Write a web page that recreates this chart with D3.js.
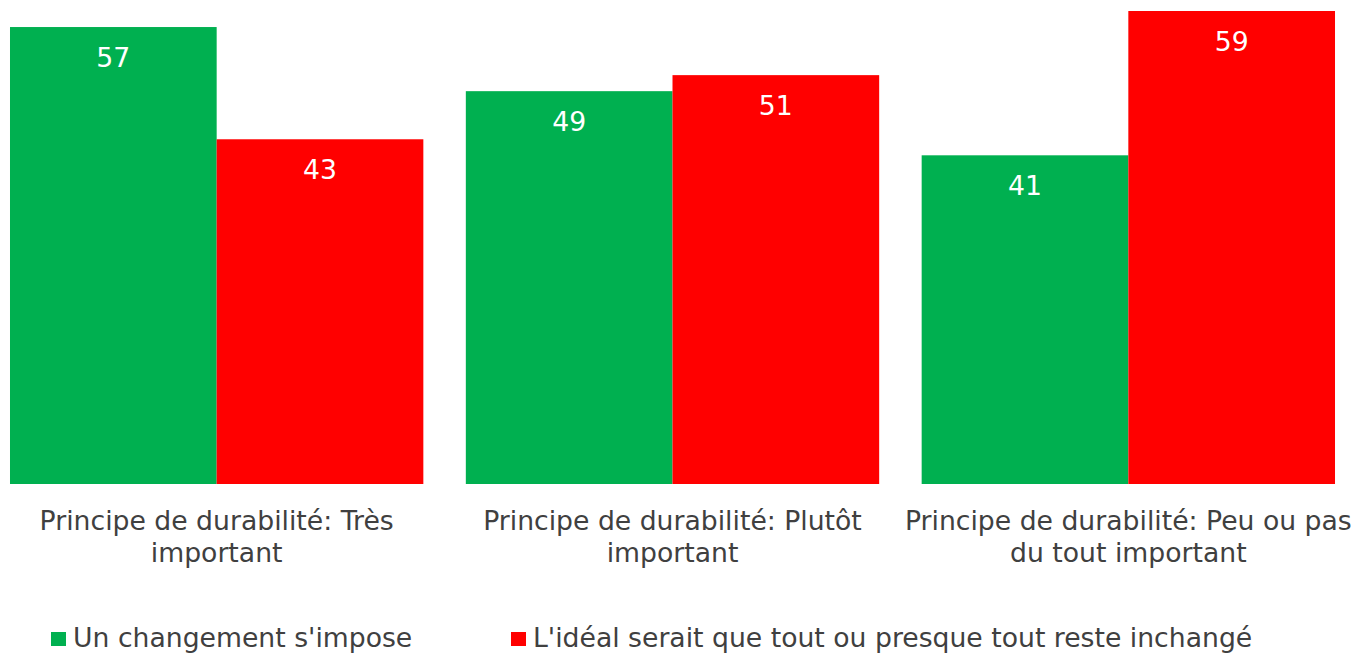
<!DOCTYPE html>
<html>
<head>
<meta charset="utf-8">
<script src="https://cdn.jsdelivr.net/npm/d3@7"></script>
<style>
  html, body { margin: 0; padding: 0; background: #fff; }
  svg { display: block; }
  text { font-family: "DejaVu Sans", Verdana, sans-serif; }
</style>
</head>
<body>
<svg id="chart" width="1356" height="653"></svg>
<script>
const categories = [
  "Principe de durabilité: Très important",
  "Principe de durabilité: Plutôt important",
  "Principe de durabilité: Peu ou pas du tout important"
];
const seriesNames = [
  "Un changement s'impose",
  "L'idéal serait que tout ou presque tout reste inchangé"
];
const changementValues = [57, 49, 41];
const inchangeValues = [43, 51, 59];
const seriesColors = ["#00B050", "#FF0000"];

const seriesValues = [changementValues, inchangeValues];
const data = categories.map((c, i) => ({
  category: c,
  values: seriesNames.map((s, j) => ({ series: s, value: seriesValues[j][i], color: seriesColors[j] }))
}));

const svg = d3.select("#chart");
const W = 1356, H = 653;
const baseY = 484, topY = 11;
const fontSize = 26.67;

const x0 = d3.scaleBand()
  .domain(categories)
  .range([-11.25, 1356.25])
  .paddingInner(0.0932)
  .paddingOuter(0.0466);

const x1 = d3.scaleBand()
  .domain(seriesNames)
  .range([0, x0.bandwidth()]);

const y = d3.scaleLinear()
  .domain([0, d3.max(seriesValues.flat())])
  .range([baseY, topY]);

const groups = svg.selectAll("g.group")
  .data(data)
  .join("g")
  .attr("class", "group")
  .attr("transform", d => `translate(${x0(d.category)},0)`);

groups.selectAll("rect")
  .data(d => d.values)
  .join("rect")
  .attr("x", d => x1(d.series))
  .attr("y", d => y(d.value))
  .attr("width", x1.bandwidth())
  .attr("height", d => y(0) - y(d.value))
  .attr("fill", d => d.color);

groups.selectAll("text.val")
  .data(d => d.values)
  .join("text")
  .attr("class", "val")
  .attr("x", d => x1(d.series) + x1.bandwidth() / 2)
  .attr("y", d => y(d.value) + 40)
  .attr("text-anchor", "middle")
  .attr("fill", "#ffffff")
  .style("font-size", fontSize + "px")
  .text(d => d.value);

// Category labels with word wrapping
function wrap(textSel, width) {
  textSel.each(function() {
    const text = d3.select(this);
    const words = text.text().split(/\s+/);
    const xPos = text.attr("x");
    const yPos = +text.attr("y");
    text.text(null);
    let line = [];
    let lineNo = 0;
    let tspan = text.append("tspan").attr("x", xPos).attr("y", yPos);
    for (const w of words) {
      line.push(w);
      tspan.text(line.join(" "));
      if (tspan.node().getComputedTextLength() > width && line.length > 1) {
        line.pop();
        tspan.text(line.join(" "));
        line = [w];
        lineNo++;
        tspan = text.append("tspan").attr("x", xPos).attr("y", yPos + lineNo * 32).text(w);
      }
    }
  });
}

svg.selectAll("text.cat")
  .data(categories)
  .join("text")
  .attr("class", "cat")
  .attr("x", d => x0(d) + x0.bandwidth() / 2)
  .attr("y", 530)
  .attr("text-anchor", "middle")
  .attr("fill", "#404040")
  .style("font-size", fontSize + "px")
  .text(d => d)
  .call(wrap, x0.step());

// Legend
const legendX = [51, 511];
const legend = svg.selectAll("g.legend")
  .data(seriesNames)
  .join("g")
  .attr("class", "legend")
  .attr("transform", (d, i) => `translate(${legendX[i]},0)`);

legend.append("rect")
  .attr("x", 0)
  .attr("y", 632)
  .attr("width", 15)
  .attr("height", 14)
  .attr("fill", (d, i) => seriesColors[i]);

legend.append("text")
  .attr("x", 22)
  .attr("y", 647)
  .attr("fill", "#404040")
  .style("font-size", fontSize + "px")
  .text(d => d);
</script>
</body>
</html>
